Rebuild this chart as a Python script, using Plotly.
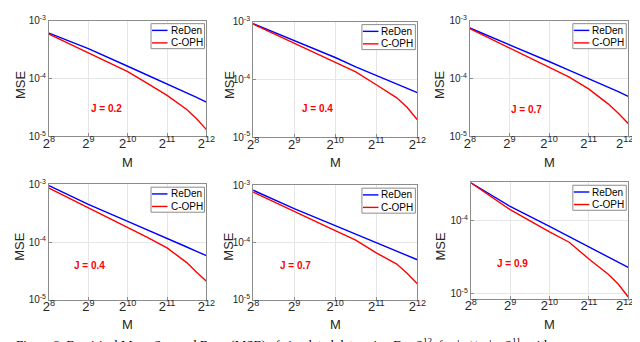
import plotly.graph_objects as go
from plotly.subplots import make_subplots

# sample sizes M (2^8 ... 2^12)
M = [256, 512, 1024, 1448, 2048, 2896, 3444, 4096]

# MSE
reden_1 = [6.1e-4, 3.3e-4, 1.63e-4, 1.15e-4, 8.0e-5, 5.6e-5, 4.7e-5, 3.9e-5]
coph_1 = [5.85e-4, 2.8e-4, 1.31e-4, 8.2e-5, 5.1e-5, 2.9e-5, 2.0e-5, 1.3e-5]
reden_2 = [9.3e-4, 4.8e-4, 2.4e-4, 1.65e-4, 1.17e-4, 8.3e-5, 7.0e-5, 5.9e-5]
coph_2 = [9.1e-4, 4.2e-4, 1.96e-4, 1.35e-4, 8.1e-5, 4.8e-5, 3.3e-5, 2.0e-5]
reden_3 = [7.5e-4, 3.9e-4, 1.97e-4, 1.4e-4, 1.0e-4, 7.0e-5, 5.9e-5, 4.9e-5]
coph_3 = [7.3e-4, 3.4e-4, 1.62e-4, 1.07e-4, 6.6e-5, 3.6e-5, 2.5e-5, 1.66e-5]
reden_4 = [9.5e-4, 4.5e-4, 2.27e-4, 1.6e-4, 1.16e-4, 8.2e-5, 6.9e-5, 5.8e-5]
coph_4 = [8.6e-4, 3.95e-4, 1.83e-4, 1.2e-4, 7.9e-5, 4.4e-5, 3.0e-5, 2.1e-5]
reden_5 = [8.2e-4, 3.9e-4, 1.98e-4, 1.4e-4, 1.0e-4, 7.1e-5, 6.0e-5, 5.0e-5]
coph_5 = [7.6e-4, 3.45e-4, 1.62e-4, 1.1e-4, 6.6e-5, 4.2e-5, 2.9e-5, 1.9e-5]
reden_6 = [3.35e-4, 1.58e-4, 8.4e-5, 6.1e-5, 4.45e-5, 3.2e-5, 2.7e-5, 2.3e-5]
coph_6 = [3.35e-4, 1.43e-4, 7.1e-5, 5.1e-5, 3.0e-5, 1.84e-5, 1.35e-5, 9.0e-6]

J_labels = ["J = 0.2", "J = 0.4", "J = 0.7", "J = 0.4", "J = 0.7", "J = 0.9"]
series_names = ["ReDen", "C-OPH"]
series_colors = ["#0000ff", "#ff0000"]
x_ticks = [256, 512, 1024, 2048, 4096]
x_ticktext = ["2<sup>8</sup>", "2<sup>9</sup>", "2<sup>10</sup>", "2<sup>11</sup>", "2<sup>12</sup>"]
y_ticks = [1e-5, 1e-4, 1e-3]
y_ticktext = ["10<sup>-5</sup>", "10<sup>-4</sup>", "10<sup>-3</sup>"]

reden = [reden_1, reden_2, reden_3, reden_4, reden_5, reden_6]
coph = [coph_1, coph_2, coph_3, coph_4, coph_5, coph_6]

W, H = 640, 342
# pixel boxes of each panel: left, right, top, bottom
boxes = [(36, 198, 6, 126), (246, 415, 7, 127), (469, 632, 6, 126),
         (36, 198, 176, 296), (246, 415, 177, 296), (470, 632, 174, 295)]
yranges = [[-5, -3]] * 5 + [[-5.07, -3.47]]
# position of the J text inside each panel (domain fractions)
j_pos = [(0.364, 0.24), (0.39, 0.25), (0.356, 0.23), (0.26, 0.30), (0.26, 0.30), (0.265, 0.30)]
# pixel centres of the "MSE" labels (x) and "M" labels (y)
mse_x = [6, 221, 438, 6, 221, 439]
mse_y = [72, 72, 72, 240, 240, 240]
m_y = [153, 153, 153, 322, 322, 322]

FONT = "Liberation Sans, Arial, sans-serif"
GRAY = "#8c8c8c"
TXT = "#262626"

fig = make_subplots(rows=2, cols=3)
layout = {}
for i in range(6):
    r, c = i // 3 + 1, i % 3 + 1
    for name, col, ys in zip(series_names, series_colors, [reden[i], coph[i]]):
        fig.add_trace(go.Scatter(x=M, y=ys, mode="lines", name=name, showlegend=False,
                                 line=dict(color=col, width=1.4)), row=r, col=c)
    left, right, top, bottom = boxes[i]
    pw, ph = right - left, bottom - top
    xa = "xaxis" if i == 0 else "xaxis%d" % (i + 1)
    ya = "yaxis" if i == 0 else "yaxis%d" % (i + 1)
    ttext = list(x_ticktext)
    if c == 3:
        # keep the last label inside the picture
        ttext[-1] = "2<sup>12</sup>&nbsp;&nbsp;"
    layout[xa] = dict(type="log", domain=[left / W, right / W], range=[8 * 0.30103, 12 * 0.30103],
                      tickvals=x_ticks, ticktext=ttext, tickfont=dict(size=13, color=TXT),
                      showgrid=True, gridcolor="#e6e6e6", ticks="inside", ticklen=3, tickcolor=GRAY,
                      ticklabelstandoff=-5,
                      showline=True, linecolor=GRAY, linewidth=1, mirror=True, zeroline=False)
    layout[ya] = dict(type="log", domain=[1 - bottom / H, 1 - top / H], range=yranges[i],
                      tickvals=y_ticks, ticktext=y_ticktext, tickfont=dict(size=10, color=TXT),
                      showgrid=True, gridcolor="#e6e6e6", ticks="inside", ticklen=3, tickcolor=GRAY,
                      showline=True, linecolor=GRAY, linewidth=1, mirror=True, zeroline=False)
    xr = "x domain" if i == 0 else "x%d domain" % (i + 1)
    yr = "y domain" if i == 0 else "y%d domain" % (i + 1)
    fig.add_annotation(text="<b>%s</b>" % J_labels[i], xref=xr, yref=yr,
                       x=j_pos[i][0], y=j_pos[i][1], showarrow=False,
                       xanchor="center", yanchor="middle",
                       font=dict(size=10, color="#ff0000"))

    # axis titles
    fig.add_annotation(text="MSE", xref="paper", yref="paper", x=mse_x[i] / W, y=1 - mse_y[i] / H,
                       xanchor="center", yanchor="middle",
                       textangle=-90, showarrow=False, font=dict(size=13, color=TXT))
    fig.add_annotation(text="M", xref="paper", yref="paper", x=(left + right) / 2 / W, y=1 - m_y[i] / H,
                       xanchor="center", yanchor="middle",
                       showarrow=False, font=dict(size=13, color=TXT))

    # compact MATLAB-style legend box in the top-right corner
    bx1, bx0 = 1 - 2 / pw, 1 - 57 / pw
    by1, by0 = 1 - 3 / ph, 1 - 29 / ph
    fig.add_shape(type="rect", xref=xr, yref=yr, x0=bx0, x1=bx1, y0=by0, y1=by1,
                  line=dict(color=GRAY, width=1), fillcolor="white", layer="above")
    for k, (name, col) in enumerate(zip(series_names, series_colors)):
        yy = 1 - (10 + 13 * k) / ph
        fig.add_shape(type="line", xref=xr, yref=yr, x0=bx0 + 1 / pw, x1=bx0 + 17 / pw, y0=yy, y1=yy,
                      line=dict(color=col, width=1.4), layer="above")
        fig.add_annotation(text=name, xref=xr, yref=yr, x=bx0 + 18 / pw, y=yy,
                           xanchor="left", yanchor="middle", showarrow=False,
                           font=dict(size=10, color="black"))

# figure caption, cut off by the image edge as in the source
fig.add_annotation(text="Figure 8: Empirical Mean Squared Error (MSE) of simulated data using D = 2<sup>12</sup>, for |x ∪ y| = 2<sup>11</sup>, with",
                   xref="paper", yref="paper", x=0.0, y=1 - 332 / H, xanchor="left", yanchor="top",
                   showarrow=False, font=dict(family="Liberation Serif, serif", size=13, color="black"))

fig.update_layout(**layout)
fig.update_layout(width=W, height=H, margin=dict(l=0, r=0, t=0, b=0),
                  plot_bgcolor="white", paper_bgcolor="white",
                  font=dict(family=FONT), showlegend=False)

fig.write_html("out.html")
